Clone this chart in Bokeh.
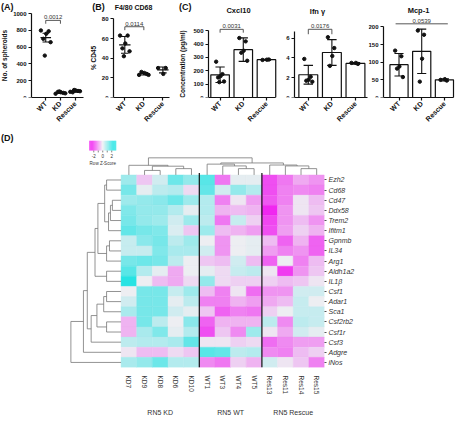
import math
from bokeh.plotting import figure
from bokeh.layouts import column, row
from bokeh.models import FixedTicker, Label, LinearAxis, Range1d, LinearColorMapper, ColumnDataSource
from bokeh.embed import file_html
from bokeh.resources import INLINE

FONT = "Liberation Sans"
INK = "#111111"
GREY = "#333333"

# ---------------- data ----------------
groups = ["WT", "KD", "Rescue"]

# (A) No. of spheroids
spheroid_points = [[800, 790, 760, 700, 660, 500], [45, 55, 62, 68, 50, 72], [68, 78, 85, 62, 75, 90]]
spheroid_mean = [715, 59, 76]
spheroid_err = [52, 10, 12]
spheroid_p = ("0.0012", 1, 2, 920)

# (B) F4/80 CD68, % CD45
cd45_points = [[63, 63, 55, 50, 47, 42], [23, 24, 25, 26, 23], [30, 30, 24]]
cd45_mean = [53.5, 24.2, 28.0]
cd45_err = [8.5, 1.3, 3.0]
cd45_p = ("0.0114", 1, 2, 72)

# (C) cytokines, pg/ml
cxcl10_points = [[268, 175, 160, 150, 120, 115], [445, 420, 350, 335, 275], [281, 284, 283]]
cxcl10_mean = [170, 358, 283]
cxcl10_err = [58, 88, 3]
cxcl10_p = ("0.0031", 1, 2, 510)

ifng_points = [[3.9, 2.1, 1.8, 1.7, 1.6], [6.1, 5.0, 4.2, 3.2], [3.5, 3.4, 3.5]]
ifng_mean = [2.3, 4.55, 3.45]
ifng_err = [0.95, 1.3, 0.08]
ifng_p = ("0.0176", 1, 2, 6.9)

mcp1_points = [[133, 117, 88, 82, 58], [190, 178, 110, 45], [50, 48, 52]]
mcp1_mean = [93, 131, 50]
mcp1_err = [32, 63, 3]
mcp1_p = ("0.0539", 1, 3, 209)

# (D) heatmap
genes = ["Ezh2", "Cd68", "Cd47", "Ddx58", "Trem2", "Ifitm1", "Gpnmb", "IL34", "Arg1", "Aldh1a2",
         "IL1\u03b2", "Csf1", "Adar1", "Sca1", "Csf2rb2", "Csf1r", "Csf3", "Adgre", "iNos"]
samples = ["KD7", "KD9", "KD8", "KD6", "KD10", "WT1", "WT3", "WT4", "WT5", "Res13", "Res11", "Res14", "Res15"]
sample_groups = ["RN5 KD", "RN5 WT", "RN5 Rescue"]
group_sizes = [5, 4, 4]
zscores = [
    [0.8, -0.4, 0.3, 1.3, 0.9, 1.5, -1.2, 0.1, 0.1, -1.6, -1.2, -0.7, -0.9],
    [1.2, 0.1, 0.5, 0.6, -0.2, 1.4, 0.3, 0.9, 0.6, -1.6, -1.1, -1.0, -1.1],
    [0.8, 0.9, 1.0, 1.3, 0.8, 0.6, -1.1, -0.1, -0.8, -1.5, -1.1, -0.1, -0.5],
    [1.1, 0.9, 0.9, 0.6, 0.1, 0.6, -0.6, -0.5, -0.6, -2.0, -0.9, -0.1, -0.4],
    [1.2, 0.9, 0.8, 0.3, 0.8, 0.5, -1.2, 0.4, -0.3, -1.7, -0.9, -0.5, -0.9],
    [1.4, 1.2, 1.1, 0.2, -0.4, 0.8, -0.5, -0.6, -0.8, -1.6, -0.8, -0.3, -0.6],
    [0.4, 1.0, 1.2, 0.5, 0.8, 0.0, -0.9, 0.0, 0.1, -0.5, -1.4, -0.6, -1.4],
    [0.4, 0.4, 1.1, 0.7, 0.7, 0.3, -0.9, 0.0, 0.1, -0.8, -1.1, -0.9, -1.4],
    [1.2, 1.3, 1.2, 0.5, 0.0, -0.4, -0.5, 0.3, -0.5, -1.4, 0.0, -1.1, -0.5],
    [1.5, 0.6, 0.1, -0.7, 0.0, 0.1, -0.2, 0.4, 0.5, -0.1, -1.8, -0.9, -0.4],
    [2.0, 0.0, -0.5, -0.7, -0.2, 0.9, -0.2, -0.3, -0.3, -0.3, -0.5, -0.4, -0.1],
    [0.0, 1.2, 1.2, 0.4, 0.8, -0.5, -1.1, -0.1, -1.3, -0.9, -0.9, 0.3, 0.3],
    [0.3, 1.2, 1.2, 0.1, 0.5, -1.1, -1.1, -0.6, -0.8, -0.7, -0.5, 0.4, 0.0],
    [0.7, 1.2, 1.2, 0.3, 0.1, -0.4, -1.4, -1.1, -1.2, -0.3, 0.0, 0.4, 0.4],
    [-0.6, 1.2, 0.5, 0.0, 1.0, -1.4, -0.6, -0.6, -0.6, 0.5, -1.0, 0.5, 0.4],
    [-0.6, 0.7, 1.1, 0.1, 0.6, -1.6, -0.4, -1.0, 0.8, -0.1, -0.7, 0.3, 0.1],
    [0.5, 0.6, 0.6, 0.7, 1.4, -0.1, -0.1, -0.3, -0.2, -1.3, -1.0, -0.8, -0.8],
    [-0.1, -0.5, -0.5, -0.2, -0.4, 1.5, 1.4, 0.5, 0.6, -1.0, -1.1, -0.5, -0.3],
    [0.7, 0.9, 1.3, 0.6, 0.6, -1.0, -1.2, -0.3, -0.6, 0.3, -0.1, -0.4, -1.1],
]
colorbar_ticks = [-2, 0, 2]
# dendrogram merges: (child a, child b, height); children >= n refer to earlier merges
row_links = [(0, 1, 15), (2, 3, 9), (20, 4, 11), (21, 5, 13), (19, 22, 17), (6, 7, 12), (24, 8, 15),
             (23, 25, 24), (9, 10, 15), (26, 27, 27), (11, 12, 15), (29, 13, 18), (14, 15, 15),
             (30, 31, 25), (32, 16, 31), (28, 33, 35), (34, 17, 39), (35, 18, 52)]
col_links = [(1, 2, 5), (3, 4, 7), (13, 14, 9.7), (0, 15, 10.7), (7, 8, 7), (6, 17, 10), (5, 18, 12),
             (11, 12, 7), (10, 20, 10), (9, 21, 11), (19, 22, 13.3), (16, 23, 19)]

# ---------------- helpers ----------------
HT, TOP, BOT = 132, 10, 35
JIT = [-1.0, 0.6, 0.1, -0.5, 1.0, -0.2]


def make_panel(width, left, right, xr, yr, yticks, ybound, ylabel=None, label_standoff=2):
    W = width - left - right
    H = HT - TOP - BOT
    dx = (xr[1] - xr[0]) / W
    dy = (yr[1] - yr[0]) / H
    fxr = (xr[0] - left * dx, xr[1] + right * dx)
    fyr = (yr[0], yr[1] + TOP * dy)
    p = figure(width=width, height=HT, x_range=Range1d(*fxr), y_range=Range1d(*fyr),
               output_backend="svg", toolbar_location=None,
               min_border_left=0, min_border_right=0, min_border_top=0, min_border_bottom=BOT)
    p.grid.visible = False
    p.outline_line_color = None
    for ax in p.axis:
        ax.axis_line_color = INK
        ax.axis_line_width = 1.2
        ax.major_tick_line_color = INK
        ax.major_tick_line_width = 1.2
        ax.major_tick_in = 0
        ax.major_tick_out = 3
        ax.minor_tick_line_color = None
        ax.major_label_text_font = FONT
        ax.major_label_text_font_style = "bold"
        ax.major_label_text_color = INK
    p.xaxis.ticker = FixedTicker(ticks=[i + 1 for i in range(len(groups))])
    p.xaxis.major_label_overrides = {i + 1: g for i, g in enumerate(groups)}
    p.xaxis.major_label_orientation = math.pi / 4
    p.xaxis.major_label_text_font_size = "7px"
    p.xaxis.major_label_standoff = 2
    p.xaxis.bounds = xr
    p.yaxis.fixed_location = xr[0]
    p.yaxis.ticker = FixedTicker(ticks=yticks)
    p.yaxis.bounds = ybound
    p.yaxis.major_label_text_font_size = "6px"
    p.yaxis.major_label_standoff = 2
    if ylabel:
        p.yaxis.axis_label = ylabel
        p.yaxis.axis_label_text_font = FONT
        p.yaxis.axis_label_text_font_style = "bold"
        p.yaxis.axis_label_text_font_size = "6.5px"
        p.yaxis.axis_label_text_color = INK
        p.yaxis.axis_label_standoff = label_standoff
    geo = dict(W=width, H=HT - BOT, xr=fxr, yr=fyr)
    return p, geo


def to_data(geo, cx, cy):
    xr, yr = geo["xr"], geo["yr"]
    x = xr[0] + cx / geo["W"] * (xr[1] - xr[0])
    y = yr[1] - cy / geo["H"] * (yr[1] - yr[0])
    return x, y


def add_text(p, geo, cx, cy, text, size, bold=True, align="left", baseline="top"):
    x, y = to_data(geo, cx, cy)
    p.add_layout(Label(x=x, y=y, text=text, text_font=FONT, text_font_size=size,
                       text_font_style="bold" if bold else "normal", text_color=INK,
                       text_align=align, text_baseline=baseline))


def draw_points(p, pts, spread):
    xs, ys = [], []
    for gi, vals in enumerate(pts):
        for k, v in enumerate(vals):
            xs.append(gi + 1 + JIT[k % len(JIT)] * spread)
            ys.append(v)
    p.scatter(xs, ys, size=3.4, color=INK, line_color=INK)


def draw_errors(p, means, errs, cap):
    cx = [i + 1 for i in range(len(means))]
    lo = [m - e for m, e in zip(means, errs)]
    hi = [m + e for m, e in zip(means, errs)]
    p.segment(cx, lo, cx, hi, line_color=INK, line_width=1.1)
    p.segment([c - cap for c in cx], hi, [c + cap for c in cx], hi, line_color=INK, line_width=1.1)
    p.segment([c - cap for c in cx], lo, [c + cap for c in cx], lo, line_color=INK, line_width=1.1)


def dot_plot(p, pts, means, errs, spread, half_mean, cap):
    draw_points(p, pts, spread)
    cx = [i + 1 for i in range(len(means))]
    p.segment([c - half_mean for c in cx], means, [c + half_mean for c in cx], means,
              line_color=INK, line_width=1.2)
    draw_errors(p, means, errs, cap)


def bar_plot(p, pts, means, errs):
    cx = [i + 1 for i in range(len(means))]
    p.vbar(x=cx, top=means, bottom=0, width=0.8, fill_color="white", line_color=INK, line_width=1.2)
    draw_errors(p, means, errs, 0.2)
    draw_points(p, pts, 0.17)


def bracket(p, sig, drop, ticks=True, pad=0.0):
    label, a, b, y = sig
    x0, x1 = a - pad, b + pad
    if ticks:
        p.line([x0, x0, x1, x1], [y - drop, y, y, y - drop], line_color="#444444", line_width=0.9)
    else:
        p.line([x0, x1], [y, y], line_color="#444444", line_width=0.9)
    p.add_layout(Label(x=(x0 + x1) / 2, y=y, y_offset=1, text=label, text_font=FONT,
                       text_font_size="6px", text_color=GREY, text_align="center",
                       text_baseline="bottom"))


# ---------------- top row ----------------
pA, gA = make_panel(89, 31, 6, (0.03, 3.57), (0, 1038), [0, 200, 400, 600, 800, 1000], (0, 1000),
                    "No. of spheroids")
dot_plot(pA, spheroid_points, spheroid_mean, spheroid_err, 0.33, 0.36, 0.22)
bracket(pA, spheroid_p, 40)
add_text(pA, gA, 0.5, 1, "(A)", "9px")

pB, gB = make_panel(87, 24, 7, (0.405, 3.35), (0, 88.5), [0, 20, 40, 60, 80], (0, 80), "% CD45")
dot_plot(pB, cd45_points, cd45_mean, cd45_err, 0.25, 0.3, 0.2)
bracket(pB, cd45_p, 3.5)
add_text(pB, gB, 2.7, 1, "(B)", "9px")
add_text(pB, gB, 44, 6.5, "F4/80 CD68", "7px", align="center", baseline="middle")

pC1, gC1 = make_panel(104, 32, 5, (0.5, 3.39), (0, 651), [0, 100, 200, 300, 400, 500], (0, 500),
                      "Concentration (pg/ml)", label_standoff=4)
bar_plot(pC1, cxcl10_points, cxcl10_mean, cxcl10_err)
bracket(pC1, cxcl10_p, 25)
add_text(pC1, gC1, 2.5, 1, "(C)", "9px")
add_text(pC1, gC1, 62, 9.5, "Cxcl10", "7.5px", align="center", baseline="middle")

pC2, gC2 = make_panel(88, 14, 1, (0.415, 3.51), (0, 8.8), [0, 2, 4, 6], (0, 6.7))
bar_plot(pC2, ifng_points, ifng_mean, ifng_err)
bracket(pC2, ifng_p, 0.5)
add_text(pC2, gC2, 37, 11, "Ifn \u03b3", "7.5px", align="center", baseline="middle")

pC3, gC3 = make_panel(90, 15, 5, (0.317, 3.40), (0, 246.8), [0, 50, 100, 150, 200], (0, 200))
bar_plot(pC3, mcp1_points, mcp1_mean, mcp1_err)
bracket(pC3, mcp1_p, 0, ticks=False, pad=0.15)
add_text(pC3, gC3, 50, 9.5, "Mcp-1", "7.5px", align="center", baseline="middle")

top = row(pA, pB, pC1, pC2, pC3)

# ---------------- heatmap panel ----------------
n_rows, n_cols = len(genes), len(samples)
X0, Y1 = -3.87, 22.45
DW, DH, DR, DB, DL, DT = 458, 286, 134, 34, 60, 8
dxD = (n_cols - X0) / (DW - DR - DL)
dyD = Y1 / (DH - DB - DT)
XS, YE = X0 - DL * dxD, Y1 + DT * dyD
pD = figure(width=DW, height=DH, x_range=Range1d(XS, n_cols), y_range=Range1d(0, YE),
            x_axis_location="below", y_axis_location="right", output_backend="svg",
            toolbar_location=None, min_border_left=0, min_border_right=DR,
            min_border_top=0, min_border_bottom=DB)
pD.grid.visible = False
pD.outline_line_color = None

palette = []
lo_c, mid_c, hi_c = (240, 20, 240), (238, 238, 242), (20, 226, 226)
for k in range(256):
    t = k / 255
    if t < 0.5:
        a, b, u = lo_c, mid_c, t / 0.5
    else:
        a, b, u = mid_c, hi_c, (t - 0.5) / 0.5
    palette.append("#%02x%02x%02x" % tuple(int(round(a[c] + (b[c] - a[c]) * u)) for c in range(3)))
mapper = LinearColorMapper(palette=palette, low=-2.2, high=2.2)

cx, cy, cz = [], [], []
for i in range(n_rows):
    for j in range(n_cols):
        cx.append(j + 0.5)
        cy.append(n_rows - i - 0.5)
        cz.append(zscores[i][j])
src = ColumnDataSource(dict(x=cx, y=cy, z=cz))
pD.rect("x", "y", width=1, height=1, source=src,
        fill_color={"field": "z", "transform": mapper},
        line_color={"field": "z", "transform": mapper}, line_width=0.4)

# group separators
bounds = []
acc = 0
for gsz in group_sizes[:-1]:
    acc += gsz
    bounds.append(acc)
pD.segment(bounds, [0] * len(bounds), bounds, [n_rows + 0.2] * len(bounds), line_color="#111111", line_width=1.2)


def dendro(links, n):
    pos = {i: (i, 0.0) for i in range(n)}
    segs = []
    for k, (a, b, h) in enumerate(links):
        pa, ha = pos[a]
        pb, hb = pos[b]
        segs.append((pa, ha, pa, h))
        segs.append((pb, hb, pb, h))
        segs.append((pa, h, pb, h))
        pos[n + k] = ((pa + pb) / 2, h)
    return segs


S = 0.965
k_row = S * dxD
k_col = S * dyD
rs = dendro(row_links, n_rows)
pD.segment([-s[1] * k_row for s in rs], [n_rows - s[0] - 0.5 for s in rs],
           [-s[3] * k_row for s in rs], [n_rows - s[2] - 0.5 for s in rs],
           line_color="#777777", line_width=0.8)
cs = dendro(col_links, n_cols)
pD.segment([s[0] + 0.5 for s in cs], [n_rows + s[1] * k_col for s in cs],
           [s[2] + 0.5 for s in cs], [n_rows + s[3] * k_col for s in cs],
           line_color="#777777", line_width=0.8)

# colour key
cb_x0, cb_x1, cb_y0, cb_y1, cb_lo, cb_hi = -2.03, -0.31, 21.40, 22.37, -3.0, 3.0
nstep = 60
vals = [cb_lo + (cb_hi - cb_lo) * (k + 0.5) / nstep for k in range(nstep)]
wstep = (cb_x1 - cb_x0) / nstep
cb_src = ColumnDataSource(dict(x=[cb_x0 + (k + 0.5) * wstep for k in range(nstep)],
                               y=[(cb_y0 + cb_y1) / 2] * nstep, v=vals))
pD.rect("x", "y", width=wstep * 1.05, height=cb_y1 - cb_y0,
        fill_color={"field": "v", "transform": mapper}, line_color=None, source=cb_src)


def cb_x(v):
    return cb_x0 + (v - cb_lo) / (cb_hi - cb_lo) * (cb_x1 - cb_x0)


mk = [-2, -1, 0, 1, 2]
pD.segment([cb_x(v) for v in mk], [cb_y0] * 5, [cb_x(v) for v in mk], [cb_y0 - 0.18] * 5,
           line_color="#333333", line_width=0.6)
for v in colorbar_ticks:
    pD.add_layout(Label(x=cb_x(v), y=cb_y0 - 0.3, text=str(v), text_font=FONT, text_font_size="4.5px",
                        text_color=GREY, text_align="center", text_baseline="top"))
pD.add_layout(Label(x=(cb_x0 + cb_x1) / 2, y=cb_y0 - 1.0, text="Row Z-Score", text_font=FONT,
                    text_font_size="4.5px", text_color=GREY, text_align="center", text_baseline="top"))

# panel letter
pD.add_layout(Label(x=XS + 0.5 * dxD, y=YE - 1 * dyD, text="(D)", text_font=FONT,
                    text_font_size="9px", text_font_style="bold", text_color=INK,
                    text_align="left", text_baseline="top"))

# axes
yax = pD.yaxis[0]
yax.ticker = FixedTicker(ticks=[n_rows - i - 0.5 for i in range(n_rows)])
yax.major_label_overrides = {n_rows - i - 0.5: g for i, g in enumerate(genes)}
yax.axis_line_color = None
yax.major_tick_line_color = "#555555"
yax.major_tick_in = 0
yax.major_tick_out = 2
yax.minor_tick_line_color = None
yax.major_label_standoff = 2
yax.major_label_text_font = FONT
yax.major_label_text_font_style = "italic"
yax.major_label_text_font_size = "7px"
yax.major_label_text_color = GREY

xax = pD.xaxis[0]
xax.ticker = FixedTicker(ticks=[j + 0.5 for j in range(n_cols)])
xax.major_label_overrides = {j + 0.5: s for j, s in enumerate(samples)}
xax.major_label_orientation = "vertical"
xax.axis_line_color = None
xax.major_tick_line_color = None
xax.minor_tick_line_color = None
xax.major_label_standoff = 2
xax.major_label_text_font = FONT
xax.major_label_text_font_size = "6.5px"
xax.major_label_text_color = GREY

centers = []
acc = 0
for gsz in group_sizes:
    centers.append(acc + gsz / 2)
    acc += gsz
gax = LinearAxis(ticker=FixedTicker(ticks=centers),
                 major_label_overrides={c: g for c, g in zip(centers, sample_groups)},
                 axis_line_color=None, major_tick_line_color=None, minor_tick_line_color=None,
                 major_label_standoff=5, major_label_text_font=FONT, major_label_text_font_size="7px",
                 major_label_text_color=GREY)
pD.add_layout(gax, "below")

layout = column(top, pD, spacing=0)
open("out.html", "w").write(file_html(layout, INLINE))
